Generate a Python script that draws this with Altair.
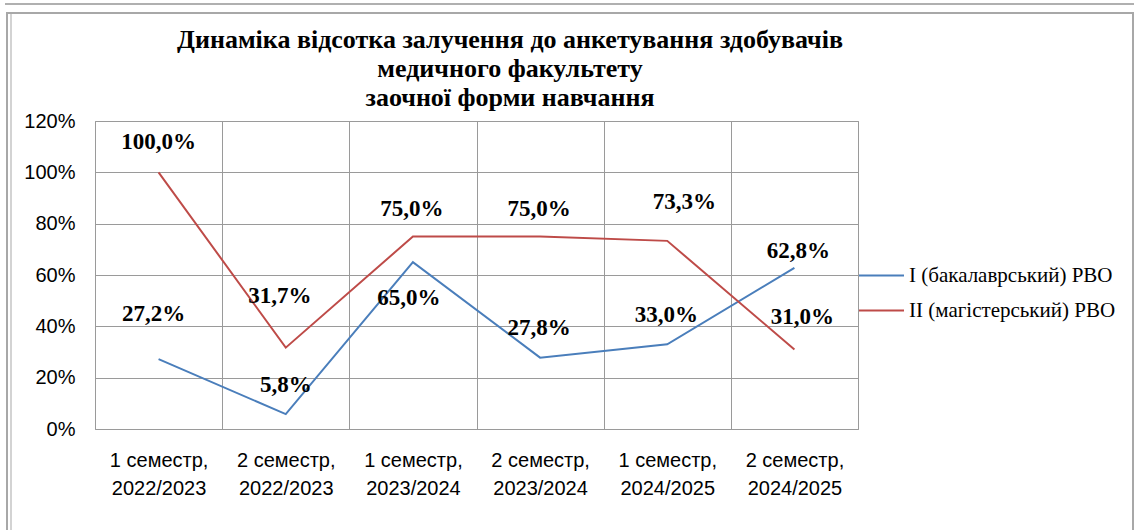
import altair as alt
import pandas as pd

categories = [
    "1 семестр,\n2022/2023",
    "2 семестр,\n2022/2023",
    "1 семестр,\n2023/2024",
    "2 семестр,\n2023/2024",
    "1 семестр,\n2024/2025",
    "2 семестр,\n2024/2025",
]
series_names = ["I (бакалаврський) РВО", "II (магістерський) РВО"]
bachelor = [27.2, 5.8, 65.0, 27.8, 33.0, 62.8]
master = [100.0, 31.7, 75.0, 75.0, 73.3, 31.0]
y_ticks = [0, 20, 40, 60, 80, 100, 120]
title_lines = [
    "Динаміка відсотка залучення до анкетування здобувачів",
    "медичного факультету",
    "заочної форми навчання",
]

# label placement (pixel nudges, like manually dragged Excel labels)
label_dx = {series_names[0]: [-5, 0, -4, -1, -1, 4], series_names[1]: [0, -6, -1, -1, 17, 8]}
label_dy = {series_names[0]: [-45, -29, 36, -30, -29, -17], series_names[1]: [-30, -52, -28, -28, -39, -32]}

colors = ["#4A7EBB", "#BE4B48"]
grid_col = "#9a9a9a"

rows = []
for s, vals in zip(series_names, [bachelor, master]):
    for c, v in zip(categories, vals):
        rows.append({"cat": c, "series": s, "value": v})
df = pd.DataFrame(rows)

W, H = 763, 308
PL, PT = 95, 121

x_enc = alt.X(
    "cat:N",
    sort=categories,
    bandPosition=0.5,
    scale=alt.Scale(type="band", paddingInner=0, paddingOuter=0),
    axis=alt.Axis(
        title=None,
        labelExpr="split(datum.label, '\\n')",
        labelFont="Liberation Sans",
        labelFontSize=20,
        labelLineHeight=28,
        labelPadding=21,
        labelColor="#000000",
        ticks=False,
        domain=False,
        grid=True,
        tickBand="extent",
        gridColor=grid_col,
        gridOpacity=1,
        labelAngle=0,
        labelLimit=200,
    ),
)
y_enc = alt.Y(
    "value:Q",
    scale=alt.Scale(domain=[0, 120], nice=False),
    axis=alt.Axis(
        title=None,
        values=y_ticks,
        labelExpr="datum.value + '%'",
        labelFont="Liberation Sans",
        labelFontSize=20,
        labelPadding=20,
        labelColor="#000000",
        ticks=False,
        domain=False,
        grid=True,
        gridColor=grid_col,
        gridOpacity=1,
    ),
)

base = alt.Chart(df)

lines = base.mark_line(strokeWidth=2).encode(
    x=x_enc,
    y=y_enc,
    color=alt.Color(
        "series:N",
        scale=alt.Scale(domain=series_names, range=colors),
        legend=alt.Legend(
            orient="none",
            legendX=W,
            legendY=131,
            title=None,
            symbolType="stroke",
            symbolSize=2025,
            symbolStrokeWidth=2,
            labelFont="Liberation Serif",
            labelFontSize=21,
            labelColor="#000000",
            labelOffset=4,
            rowPadding=1,
            padding=0,
            labelLimit=400,
        ),
    ),
)

label_layers = []
for s in series_names:
    for i, c in enumerate(categories):
        label_layers.append(
            base.transform_filter(
                (alt.datum.series == s) & (alt.datum.cat == c)
            )
            .transform_calculate(
                lbl="replace(format(datum.value, '.1f'), '.', ',') + '%'"
            )
            .mark_text(
                font="Liberation Serif",
                fontSize=23,
                fontWeight="bold",
                color="#000000",
                dx=label_dx[s][i],
                dy=label_dy[s][i],
            )
            .encode(
                x=alt.X("cat:N", sort=categories, bandPosition=0.5),
                y=alt.Y("value:Q"),
                text="lbl:N",
            )
        )

frame_data = alt.Data(values=[{"k": 1}])
outer = alt.Chart(frame_data).mark_rect(
    fill=None, fillOpacity=0, stroke="#a8a8a8", strokeWidth=2
).encode(
    x=alt.value(7 - PL), x2=alt.value(1133 - PL),
    y=alt.value(13 - PT), y2=alt.value(545 - PT),
)
inner_left = alt.Chart(frame_data).mark_rule(color="#c4c4c4", strokeWidth=1.5).encode(
    x=alt.value(11 - PL), y=alt.value(14 - PT), y2=alt.value(545 - PT)
)
top_rule = alt.Chart(frame_data).mark_rule(color="#b0b0b0", strokeWidth=2).encode(
    x=alt.value(5 - PL), x2=alt.value(1140 - PL), y=alt.value(4 - PT)
)
title = alt.Chart(frame_data).mark_text(
    text=title_lines,
    font="Liberation Serif",
    fontSize=26,
    fontWeight="bold",
    lineHeight=29,
    align="center",
    baseline="top",
    color="#000000",
).encode(x=alt.value(510 - PL), y=alt.value(27 - PT))

chart = (
    alt.layer(outer, inner_left, top_rule, title, lines, *label_layers)
    .properties(
        width=W,
        height=H,
        padding={"left": PL, "top": PT, "right": 1134 - PL - W, "bottom": 530 - PT - H},
        autosize=alt.AutoSizeParams(type="none"),
        background="#ffffff",
    )
    .configure_view(stroke=grid_col, strokeWidth=1)
)

chart.save("out.html", embed_options={"renderer": "svg", "actions": False})
